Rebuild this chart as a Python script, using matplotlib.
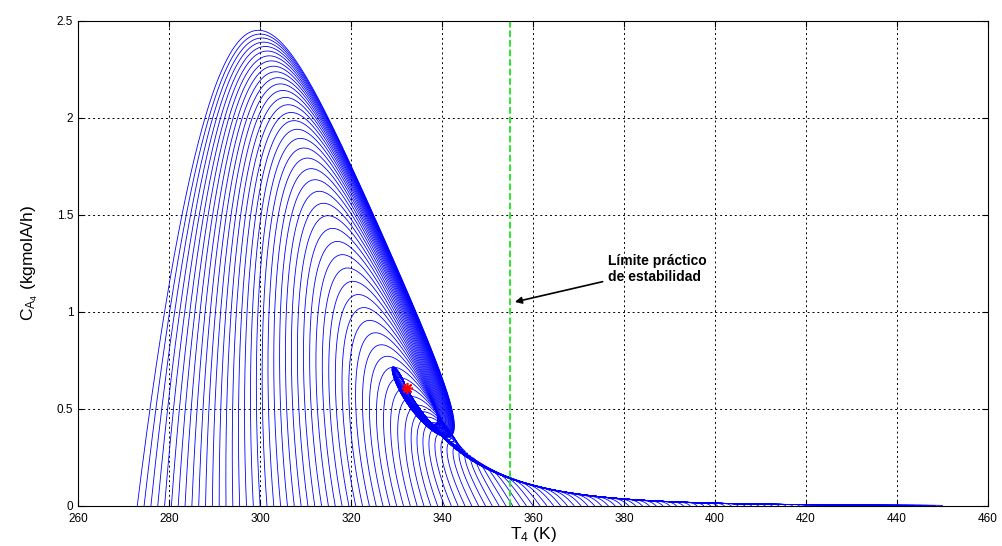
import numpy as np
import matplotlib
matplotlib.use("Agg")
import matplotlib.pyplot as plt

plt.rcParams['font.family'] = ['Liberation Sans', 'DejaVu Sans']
plt.rcParams['mathtext.default'] = 'regular'

# initial states of the 4th reactor (C_A4 = 0 at start)
start_T = np.arange(273.0, 451.0, 1.5)
start_C = np.zeros_like(start_T)
# the inlet (3rd reactor) starts at the same temperature, capped at the hot end
inlet_cap = 335.0

# operating point (red marker) and stability limit
op_T, op_C = 332.2, 0.605
limit_T = 355.0

# lumped reactor model fitted to the portrait
E_act = 8000.0      # activation temperature (K)
T_ref = 332.0       # reference temperature for k
a_flow = 0.233      # dilution rate
C_feed = 3.23       # feed concentration
b_cool = 0.22       # jacket heat exchange
T_cool = 291.0      # coolant temperature
b_in = 0.3          # heat carried by the inlet stream
T_in = 311.0        # inlet temperature at steady state
c_in = 0.15         # inlet temperature relaxation rate
J_heat = (b_cool * (T_ref - T_cool) + b_in * (T_ref - T_in)) / 0.61

x_ticks = [260, 280, 300, 320, 340, 360, 380, 400, 420, 440, 460]
y_ticks = [0, 0.5, 1, 1.5, 2, 2.5]


def rhs(T, C, U):
    k = np.exp(-E_act * (1.0 / T - 1.0 / T_ref))
    dT = b_cool * (T_cool - T) + b_in * (U - T) + J_heat * k * C
    dC = a_flow * (C_feed - C) - k * C
    dU = c_in * (T_in - U)
    return np.array([dT, dC, dU]), k


def simulate(t_end=70.0):
    y = np.array([start_T, start_C, np.minimum(start_T, inlet_cap)])
    out = [y[:2].copy()]
    t = 0.0
    while t < t_end:
        k1, k = rhs(*y)
        dt = min(0.02, 0.8 / (k.max() + a_flow))
        k2, _ = rhs(*(y + 0.5 * dt * k1))
        k3, _ = rhs(*(y + 0.5 * dt * k2))
        k4, _ = rhs(*(y + dt * k3))
        y = y + dt / 6.0 * (k1 + 2 * k2 + 2 * k3 + k4)
        out.append(y[:2].copy())
        t += dt
    out = np.array(out)
    return out[:, 0, :], out[:, 1, :]


traj_T, traj_C = simulate()

fig = plt.figure(figsize=(10.02, 5.46), dpi=100)
ax = fig.add_axes([0.078, 0.074, 0.908, 0.888])

ax.plot(traj_T, traj_C, color='b', linewidth=0.6)
ax.axvline(limit_T, color=(0.1, 0.9, 0.1), linestyle='--', linewidth=1.3)
ax.plot(op_T, op_C, marker=(8, 2, 0), color='r', markersize=8, markeredgewidth=1.2)

ax.annotate('Límite práctico\nde estabilidad', xy=(356.0, 1.05), xytext=(376.5, 1.22),
            fontsize=10, fontweight='bold', va='center', ha='left',
            arrowprops=dict(arrowstyle='-|>', color='black', lw=1.2, shrinkA=2, shrinkB=0))

ax.set_xlim(260, 460)
ax.set_ylim(0, 2.5)
ax.set_xticks(x_ticks)
ax.set_yticks(y_ticks)
ax.set_yticklabels(['0', '0.5', '1', '1.5', '2', '2.5'])
ax.tick_params(direction='in', top=True, right=True, labelsize=8.5, length=4)
ax.tick_params(axis='x', pad=5)
ax.grid(True, color='black', linestyle=(0, (2, 3)), linewidth=0.7)
ax.set_axisbelow(True)

ax.set_xlabel('T$_4$ (K)', fontsize=12.5, labelpad=0)
ax.set_ylabel('C$_{A_4}$ (kgmolA/h)', fontsize=12.5, labelpad=12)

fig.savefig('out.png', dpi=100)
